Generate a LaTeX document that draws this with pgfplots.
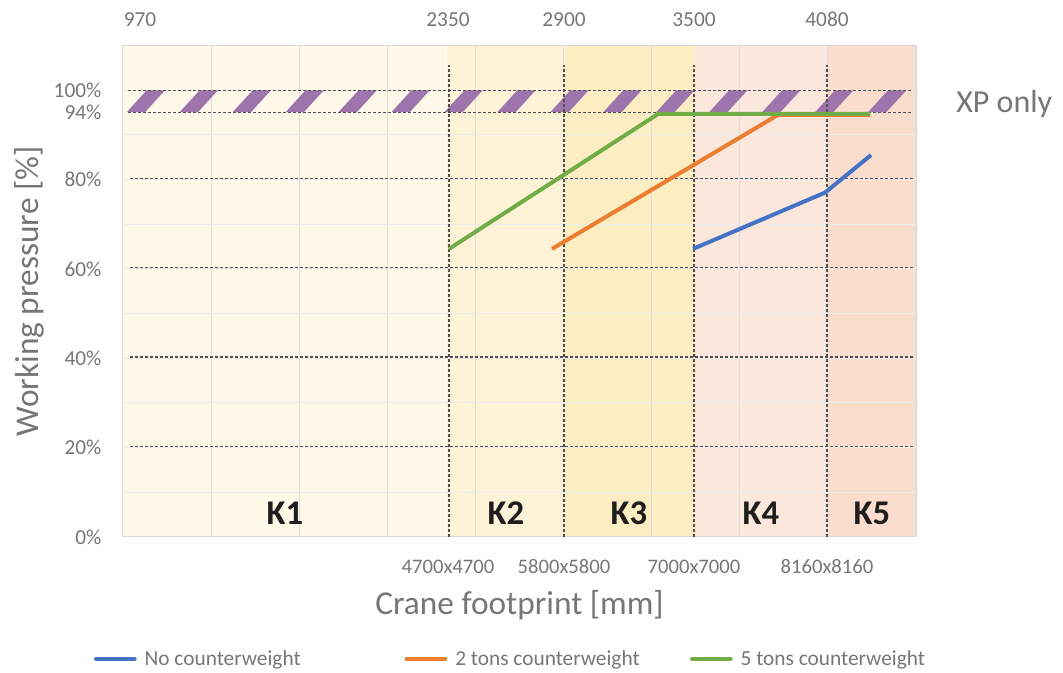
\documentclass[border=0pt]{standalone}
\usepackage{pgfplots}
\pgfplotsset{compat=1.18}
\usepackage{fontspec}
\setmainfont{Carlito}
\definecolor{txtgray}{RGB}{118,118,118}
\definecolor{kblack}{RGB}{30,30,30}
\definecolor{gridv}{RGB}{221,221,221}
\definecolor{gridh}{RGB}{236,236,236}
\definecolor{frame}{RGB}{217,217,217}
\definecolor{dash}{RGB}{80,80,80}
\definecolor{hatch}{RGB}{158,116,172}
\definecolor{bandA}{RGB}{254,248,232}
\definecolor{bandB}{RGB}{254,243,214}
\definecolor{bandC}{RGB}{253,237,195}
\definecolor{bandD}{RGB}{251,231,219}
\definecolor{bandE}{RGB}{250,221,204}
\definecolor{cblue}{RGB}{68,114,196}
\definecolor{corange}{RGB}{237,125,49}
\definecolor{cgreen}{RGB}{112,173,71}
\begin{document}
\begin{tikzpicture}
\begin{axis}[
  scale only axis, width=594.75pt, height=368.5pt,
  xmin=123, xmax=916, ymin=0, ymax=110,
  set layers, clip=false,
  axis line style={draw=frame, line width=0.75pt},
  xtick={123,211,299,387,475,563,651,739,827,915}, xticklabels={},
  xmajorgrids, major grid style={draw=gridv, line width=0.75pt},
  ytick={0,20,40,60,80,95.1,100},
  yticklabels={0\%,20\%,40\%,60\%,80\%,94\%,100\%},
  minor ytick={10,20,30,40,50,60,70,80,90,100}, yminorgrids,
  minor grid style={draw=gridh, line width=0.75pt},
  major tick length=0pt, minor tick length=0pt,
  tick label style={font=\fontsize{16}{19}\selectfont, text=txtgray},
  yticklabel style={inner sep=0pt, xshift=-16pt},
  legend columns=3,
  legend style={at={(axis description cs:-0.0366,-0.248)}, anchor=west,
    draw=none, fill=none, inner sep=0pt, outer sep=0pt,
    font=\fontsize{16}{19}\selectfont, nodes={inner sep=0pt},
    /tikz/every odd column/.append style={column sep=6pt}},
  legend image code/.code={\draw[#1, line cap=round] (0pt,0pt) -- (29pt,0pt);},
]
% background bands
\addplot[on layer=axis background, fill=bandA, draw=none, forget plot] coordinates {(123,0) (447,0) (447,110) (123,110)} -- cycle;
\addplot[on layer=axis background, fill=bandB, draw=none, forget plot] coordinates {(447,0) (565,0) (565,110) (447,110)} -- cycle;
\addplot[on layer=axis background, fill=bandC, draw=none, forget plot] coordinates {(565,0) (695,0) (695,110) (565,110)} -- cycle;
\addplot[on layer=axis background, fill=bandD, draw=none, forget plot] coordinates {(695,0) (827,0) (827,110) (695,110)} -- cycle;
\addplot[on layer=axis background, fill=bandE, draw=none, forget plot] coordinates {(827,0) (916,0) (916,110) (827,110)} -- cycle;
% hatch stripes (XP only zone)
\addplot[fill=hatch, draw=none, forget plot] coordinates {(126.7,95.1) (145.0,95.1) (165.0,100) (146.7,100)} -- cycle;
\addplot[fill=hatch, draw=none, forget plot] coordinates {(179.6,95.1) (197.9,95.1) (217.9,100) (199.6,100)} -- cycle;
\addplot[fill=hatch, draw=none, forget plot] coordinates {(232.6,95.1) (250.9,95.1) (270.9,100) (252.6,100)} -- cycle;
\addplot[fill=hatch, draw=none, forget plot] coordinates {(285.5,95.1) (303.8,95.1) (323.8,100) (305.5,100)} -- cycle;
\addplot[fill=hatch, draw=none, forget plot] coordinates {(338.5,95.1) (356.8,95.1) (376.8,100) (358.5,100)} -- cycle;
\addplot[fill=hatch, draw=none, forget plot] coordinates {(391.4,95.1) (409.7,95.1) (429.7,100) (411.4,100)} -- cycle;
\addplot[fill=hatch, draw=none, forget plot] coordinates {(444.4,95.1) (462.7,95.1) (482.7,100) (464.4,100)} -- cycle;
\addplot[fill=hatch, draw=none, forget plot] coordinates {(497.3,95.1) (515.6,95.1) (535.6,100) (517.3,100)} -- cycle;
\addplot[fill=hatch, draw=none, forget plot] coordinates {(550.3,95.1) (568.6,95.1) (588.6,100) (570.3,100)} -- cycle;
\addplot[fill=hatch, draw=none, forget plot] coordinates {(603.2,95.1) (621.5,95.1) (641.5,100) (623.2,100)} -- cycle;
\addplot[fill=hatch, draw=none, forget plot] coordinates {(656.2,95.1) (674.5,95.1) (694.5,100) (676.2,100)} -- cycle;
\addplot[fill=hatch, draw=none, forget plot] coordinates {(709.1,95.1) (727.4,95.1) (747.4,100) (729.1,100)} -- cycle;
\addplot[fill=hatch, draw=none, forget plot] coordinates {(762.1,95.1) (780.4,95.1) (800.4,100) (782.1,100)} -- cycle;
\addplot[fill=hatch, draw=none, forget plot] coordinates {(815.0,95.1) (833.3,95.1) (853.3,100) (835.0,100)} -- cycle;
\addplot[fill=hatch, draw=none, forget plot] coordinates {(868.0,95.1) (886.3,95.1) (906.3,100) (888.0,100)} -- cycle;
% dashed reference lines
\pgfplotsset{dashref/.style={draw=dash, line width=0.8pt, dash pattern=on 2.25pt off 1.5pt, forget plot}}
\addplot[dashref] coordinates {(128,100) (913,100)};
\addplot[dashref] coordinates {(128,95.1) (913,95.1)};
\addplot[dashref] coordinates {(130,80.3) (913,80.3)};
\addplot[dashref] coordinates {(130,60.3) (913,60.3)};
\addplot[dashref] coordinates {(130,40.3) (913,40.3)};
\addplot[dashref] coordinates {(130,20.3) (913,20.3)};
\addplot[dashref] coordinates {(449,0) (449,105.7)};
\addplot[dashref] coordinates {(564,0) (564,105.7)};
\addplot[dashref] coordinates {(694,0) (694,105.7)};
\addplot[dashref] coordinates {(827,0) (827,105.7)};
% data series
\addplot[cblue, line width=3pt] coordinates {(693,64.5) (825,77.1) (871,85.5)};
\addlegendentry{\makebox[195pt][l]{\textcolor{txtgray}{No counterweight}}}
\addplot[corange, line width=3pt] coordinates {(552,64.5) (778,94.5) (870,94.5)};
\addlegendentry{\makebox[176pt][l]{\textcolor{txtgray}{2 tons counterweight}}}
\addplot[cgreen, line width=3pt] coordinates {(449,64.5) (658,94.7) (870,94.7)};
\addlegendentry{\textcolor{txtgray}{5 tons counterweight}}
% texts
\node[font=\fontsize{16}{19}\selectfont, text=txtgray, anchor=base, inner sep=0pt] at (axis cs:140,114.2) {970};
\node[font=\fontsize{16}{19}\selectfont, text=txtgray, anchor=base, inner sep=0pt] at (axis cs:448,114.2) {2350};
\node[font=\fontsize{16}{19}\selectfont, text=txtgray, anchor=base, inner sep=0pt] at (axis cs:564,114.2) {2900};
\node[font=\fontsize{16}{19}\selectfont, text=txtgray, anchor=base, inner sep=0pt] at (axis cs:694,114.2) {3500};
\node[font=\fontsize{16}{19}\selectfont, text=txtgray, anchor=base, inner sep=0pt] at (axis cs:827,114.2) {4080};
\node[font=\fontsize{15.5}{19}\selectfont, text=txtgray, anchor=base, inner sep=0pt] at (axis cs:448,-8.2) {4700x4700};
\node[font=\fontsize{15.5}{19}\selectfont, text=txtgray, anchor=base, inner sep=0pt] at (axis cs:564,-8.2) {5800x5800};
\node[font=\fontsize{15.5}{19}\selectfont, text=txtgray, anchor=base, inner sep=0pt] at (axis cs:694,-8.2) {7000x7000};
\node[font=\fontsize{15.5}{19}\selectfont, text=txtgray, anchor=base, inner sep=0pt] at (axis cs:827,-8.2) {8160x8160};
\node[font=\fontsize{26}{30}\selectfont\bfseries, text=kblack, anchor=base, inner sep=0pt] at (axis cs:285,2.7) {K1};
\node[font=\fontsize{26}{30}\selectfont\bfseries, text=kblack, anchor=base, inner sep=0pt] at (axis cs:506,2.7) {K2};
\node[font=\fontsize{26}{30}\selectfont\bfseries, text=kblack, anchor=base, inner sep=0pt] at (axis cs:629,2.7) {K3};
\node[font=\fontsize{26}{30}\selectfont\bfseries, text=kblack, anchor=base, inner sep=0pt] at (axis cs:761,2.7) {K4};
\node[font=\fontsize{26}{30}\selectfont\bfseries, text=kblack, anchor=base, inner sep=0pt] at (axis cs:872,2.7) {K5};
\node[font=\fontsize{24}{28}\selectfont, text=txtgray, anchor=base west, inner sep=0pt] at (axis cs:956,95.0) {XP only};
\node[font=\fontsize{25}{30}\selectfont, text=txtgray, rotate=90, anchor=center, inner sep=0pt] at (axis description cs:-0.1185,0.50) {Working pressure [\%]};
\node[font=\fontsize{25}{30}\selectfont, text=txtgray, anchor=center, inner sep=0pt] at (axis description cs:0.5,-0.1384) {Crane footprint [mm]};
\end{axis}
\pgfresetboundingbox
\path[use as bounding box] (-92.25pt,-102pt) rectangle (705pt,402.75pt);
\end{tikzpicture}
\end{document}
